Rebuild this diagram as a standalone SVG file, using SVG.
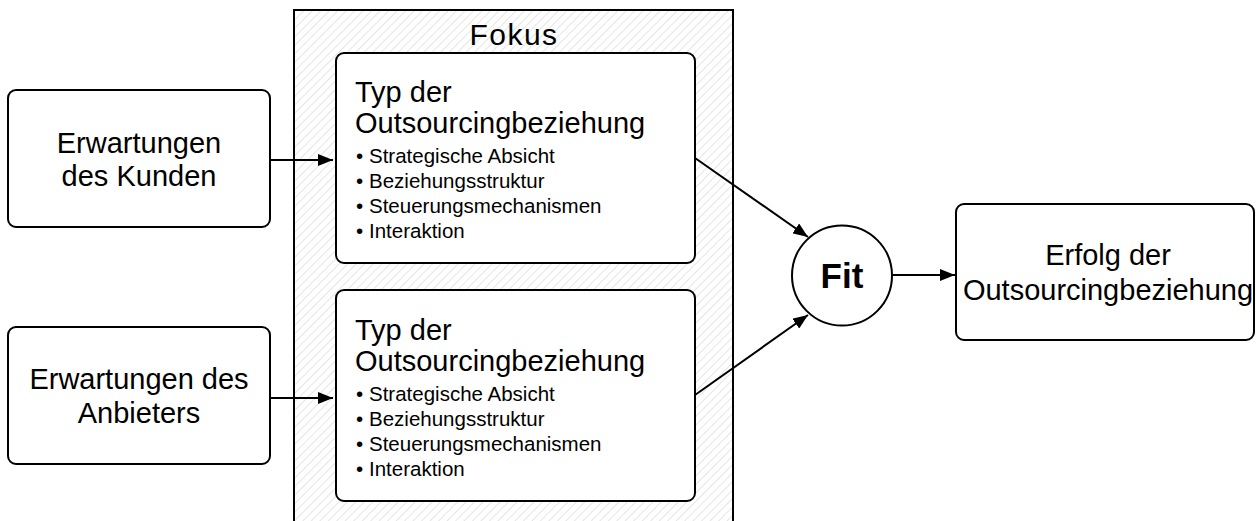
<svg xmlns="http://www.w3.org/2000/svg" width="1256" height="521" viewBox="0 0 1256 521">
<style>
  text { font-family: "Liberation Sans", Arial, sans-serif; fill: #000; }
  .box { fill: #fff; stroke: #000; stroke-width: 2; }
  .big { font-size: 30px; letter-spacing: 1.5px; }
  .mid { font-size: 29px; }
  .small { font-size: 20.5px; }
  .conn { stroke: #000; stroke-width: 2; fill: none; marker-end: url(#arrow); }
</style>
<defs>
  <pattern id="hatch" patternUnits="userSpaceOnUse" width="6" height="6" patternTransform="rotate(45)">
    <rect width="6" height="6" fill="#fff"/>
    <line x1="0" y1="0" x2="0" y2="6" stroke="#d4d4d4" stroke-width="1.2"/>
  </pattern>
  <marker id="arrow" viewBox="0 0 15 12" refX="15" refY="6" markerWidth="15" markerHeight="12" markerUnits="userSpaceOnUse" orient="auto">
    <path d="M0,0 L15,6 L0,12 Z" fill="#000"/>
  </marker>
</defs>
<rect width="1256" height="521" fill="#fff"/>

<g id="fokus">
  <rect x="294" y="10" width="439" height="530" fill="url(#hatch)" stroke="#000" stroke-width="2"/>
  <text x="514" y="45" class="big" text-anchor="middle">Fokus</text>
</g>

<g id="typ1">
  <rect class="box" x="336" y="53" width="359" height="210" rx="8"/>
  <text x="355" y="102" class="mid">Typ der</text>
  <text x="355" y="133" class="mid">Outsourcingbeziehung</text>
  <g class="small">
    <text x="356" y="163">•</text><text x="369" y="163">Strategische Absicht</text>
    <text x="356" y="188">•</text><text x="369" y="188">Beziehungsstruktur</text>
    <text x="356" y="213">•</text><text x="369" y="213">Steuerungsmechanismen</text>
    <text x="356" y="238">•</text><text x="369" y="238">Interaktion</text>
  </g>
</g>

<g id="typ2">
  <rect class="box" x="336" y="290" width="359" height="211" rx="8"/>
  <text x="355" y="340" class="mid">Typ der</text>
  <text x="355" y="371" class="mid">Outsourcingbeziehung</text>
  <g class="small">
    <text x="356" y="401">•</text><text x="369" y="401">Strategische Absicht</text>
    <text x="356" y="426">•</text><text x="369" y="426">Beziehungsstruktur</text>
    <text x="356" y="451">•</text><text x="369" y="451">Steuerungsmechanismen</text>
    <text x="356" y="476">•</text><text x="369" y="476">Interaktion</text>
  </g>
</g>

<g id="kunde">
  <rect class="box" x="8" y="90" width="262" height="137" rx="8"/>
  <text x="139" y="153" class="mid" text-anchor="middle">Erwartungen</text>
  <text x="139" y="186" class="mid" text-anchor="middle">des Kunden</text>
</g>

<g id="anbieter">
  <rect class="box" x="8" y="327" width="262" height="137" rx="8"/>
  <text x="139" y="389" class="mid" text-anchor="middle">Erwartungen des</text>
  <text x="139" y="423" class="mid" text-anchor="middle">Anbieters</text>
</g>

<g id="fit">
  <circle cx="842" cy="275.5" r="50" fill="#fff" stroke="#000" stroke-width="2"/>
  <text x="842" y="288" text-anchor="middle" font-size="35" font-weight="bold">Fit</text>
</g>

<g id="erfolg">
  <rect class="box" x="956" y="204" width="298" height="136" rx="8"/>
  <text x="1108" y="265" class="mid" text-anchor="middle">Erfolg der</text>
  <text x="1108" y="300" class="mid" text-anchor="middle">Outsourcingbeziehung</text>
</g>

<g id="connectors">
  <line class="conn" x1="270" y1="160" x2="333" y2="160"/>
  <line class="conn" x1="270" y1="398" x2="333" y2="398"/>
  <line class="conn" x1="695" y1="158" x2="808" y2="237"/>
  <line class="conn" x1="695" y1="395" x2="808" y2="315"/>
  <line class="conn" x1="892" y1="275" x2="955" y2="275"/>
</g>
</svg>
